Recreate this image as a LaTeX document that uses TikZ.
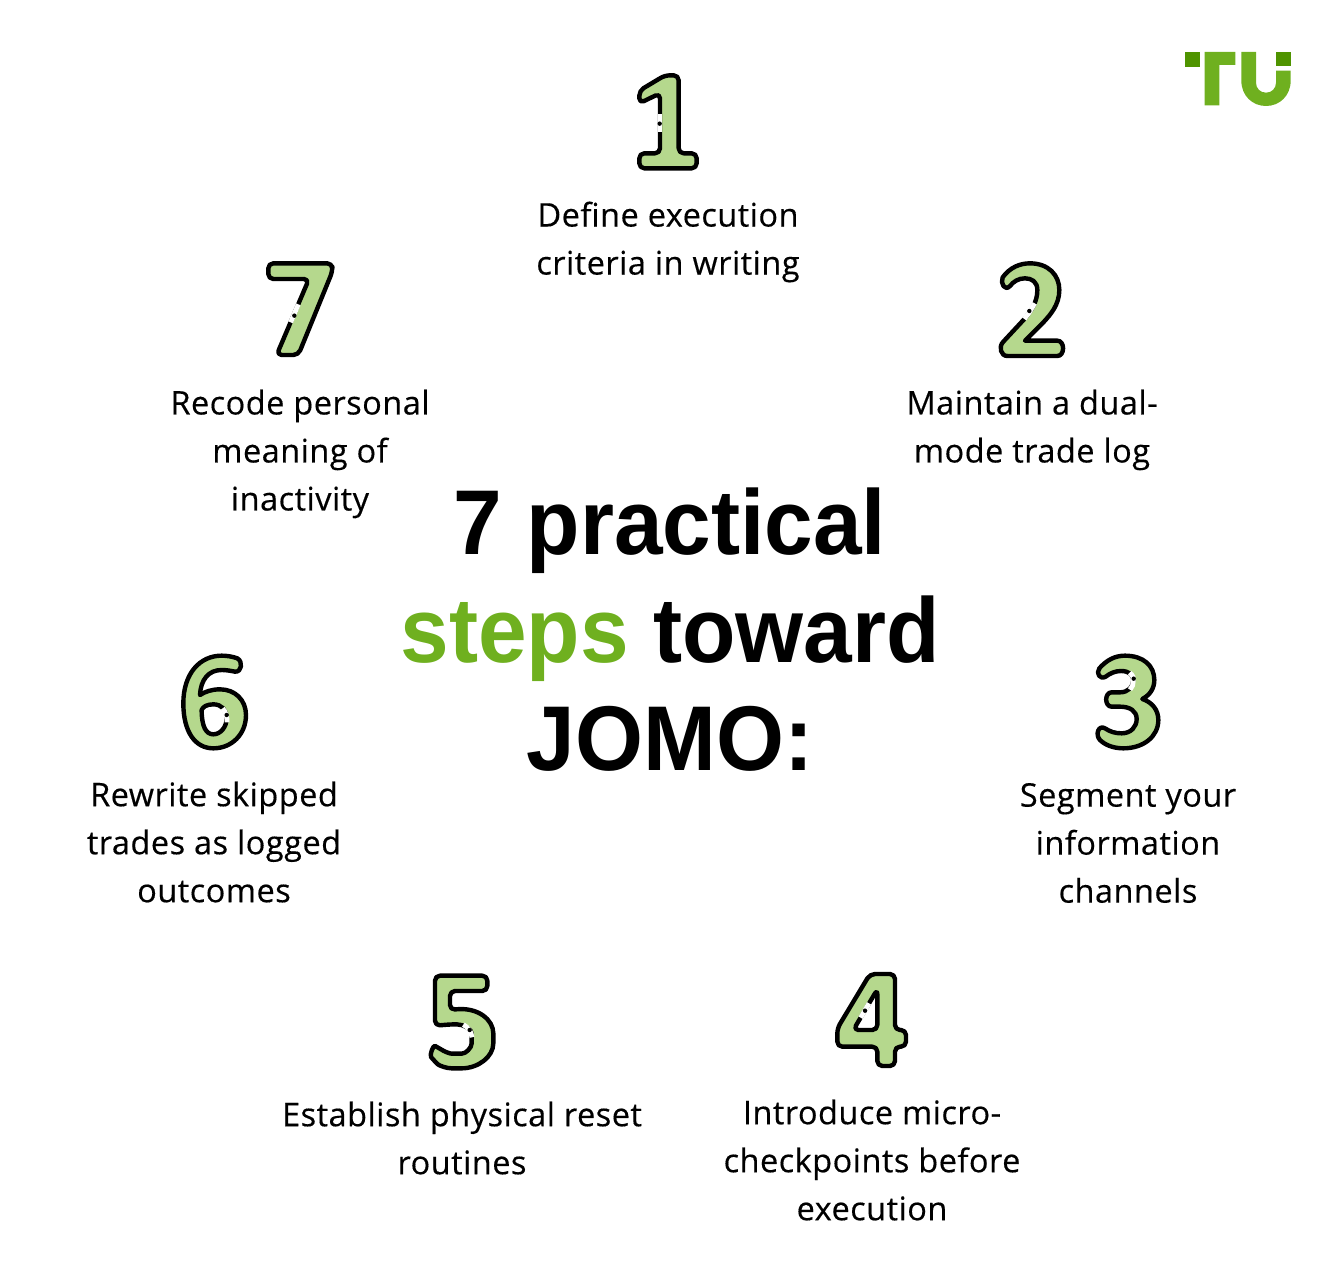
\documentclass[tikz,border=0pt]{standalone}
\usepackage{fontspec}
\setmainfont[FakeBold=0.35,LetterSpace=1.5]{Open Sans}
\newfontfamily\titlefont[FakeStretch=0.95]{Liberation Sans}
\usepackage{tikz}

\definecolor{numgreen}{HTML}{B5D88D}
\definecolor{tugreen}{HTML}{6FB01F}
\definecolor{tudark}{HTML}{4F9400}

\tikzset{
	numshape/.style={x=.3333pt,y=-.3333pt,fill=numgreen,draw=black,line width=4.4pt,line join=round,even odd rule},
	numgap/.style={x=.3333pt,y=-.3333pt,draw=white,line width=4.8pt},
	numdot/.style={x=.3333pt,y=-.3333pt,fill=black},
	steplabel/.style={align=center,font=\fontsize{32.5}{48}\selectfont},
	numone/.pic={
		\filldraw[numshape,rounded corners=5pt](118,122)--(195,76)--(236,76)--(236,310)--(290,310)--(290,355)--(118,355)--(118,310)--(180,310)--(180,130)--(118,160)--cycle;
		\draw[numgap](180,192)--(180,245);
		\fill[numdot](179,221)circle(2.2pt);
	},
	numtwo/.pic={
		\filldraw[numshape](98,112) .. controls (120,82) and (150,70) .. (180,70)
			.. controls (235,70) and (268,105) .. (268,150)
			.. controls (268,195) and (240,225) .. (222,245)
			-- (165,302) -- (262,302)
			.. controls (285,302) and (285,348) .. (262,348)
			-- (112,348)
			.. controls (92,348) and (85,320) .. (100,305)
			-- (165,235)
			.. controls (185,210) and (202,185) .. (202,150)
			.. controls (202,125) and (185,115) .. (165,115)
			.. controls (145,115) and (130,125) .. (120,138)
			.. controls (105,155) and (90,130) .. (98,112) -- cycle;
		\draw[numgap](194,190)--(179,216)--(163,237);
		\fill[numdot](178,213)circle(2.2pt);
	},
	numthree/.pic={
		\filldraw[numshape](103,100) .. controls (125,75) and (150,62) .. (180,62)
			.. controls (235,62) and (268,92) .. (268,135)
			.. controls (268,160) and (255,180) .. (232,192)
			.. controls (262,202) and (280,225) .. (280,255)
			.. controls (280,305) and (235,340) .. (175,340)
			.. controls (145,340) and (120,330) .. (105,315)
			.. controls (90,300) and (100,268) .. (120,280)
			.. controls (135,290) and (150,295) .. (170,295)
			.. controls (198,295) and (215,275) .. (215,252)
			.. controls (215,228) and (195,215) .. (165,215)
			-- (140,215)
			.. controls (118,215) and (118,172) .. (140,172)
			-- (165,172)
			.. controls (190,172) and (205,155) .. (205,135)
			.. controls (205,118) and (190,108) .. (168,108)
			.. controls (150,108) and (135,115) .. (122,125)
			.. controls (105,135) and (92,115) .. (103,100) -- cycle;
		\draw[numgap](194,113) .. controls (203,120) and (207,128) .. (205,138) .. controls (205,148) and (202,156) .. (195,164);
		\fill[numdot](206,131)circle(2.2pt);
	},
	numfour/.pic={
		\filldraw[numshape,rounded corners=5pt](210,72)--(285,72)--(285,240)--(318,240)--(318,290)--(285,290)--(285,348)--(232,348)--(232,290)--(112,290)--(112,235)--cycle
			(232,118)--(232,240)--(160,240)--cycle;
		\draw[numgap](207,160)--(182,203);
		\fill[numdot](195,182)circle(2.2pt);
	},
	numfive/.pic={
		\filldraw[numshape,rounded corners=5pt](105,62)--(262,62)--(262,108)--(150,108)--(150,165)
			.. controls (235,155) and (280,195) .. (280,250)
			.. controls (280,305) and (235,340) .. (170,340)
			.. controls (140,340) and (118,332) .. (103,318)
			.. controls (88,300) and (100,270) .. (118,280)
			.. controls (135,290) and (150,296) .. (170,296)
			.. controls (198,296) and (215,278) .. (215,250)
			.. controls (215,222) and (190,208) .. (155,208)
			-- (105,212) -- cycle;
		\draw[numgap](190,209) .. controls (205,217) and (214,230) .. (216,247);
		\fill[numdot](209,225)circle(2.2pt);
	},
	numsix/.pic={
		\filldraw[numshape](262,70) .. controls (280,80) and (275,112) .. (255,110)
			.. controls (240,107) and (228,105) .. (215,105)
			.. controls (175,105) and (152,135) .. (150,180)
			.. controls (165,170) and (185,163) .. (210,163)
			.. controls (255,163) and (288,195) .. (288,240)
			.. controls (288,298) and (245,340) .. (190,340)
			.. controls (135,340) and (100,290) .. (100,205)
			.. controls (100,115) and (150,62) .. (215,62)
			.. controls (232,62) and (248,65) .. (262,70) -- cycle
			(190,208) .. controls (170,208) and (158,216) .. (155,225)
			.. controls (155,275) and (168,298) .. (190,298)
			.. controls (212,298) and (230,275) .. (230,250)
			.. controls (230,225) and (215,208) .. (190,208) -- cycle;
		\draw[numgap](218,220) .. controls (227,230) and (232,245) .. (231,262);
		\fill[numdot](230,240)circle(2.2pt);
	},
	numseven/.pic={
		\filldraw[numshape,rounded corners=5pt](100,55)--(292,55)--(292,80)--(190,330)--(125,330)--(222,102)--(100,102)--cycle;
		\draw[numgap](190,178)--(167,232);
		\fill[numdot](178,212)circle(2.2pt);
	},
	logomark/.pic={
		\fill[tugreen,x=.3333pt,y=-.3333pt](134,66)--(226,66)--(226,105)--(178,105)--(178,226)--(134,226)--cycle;
		\fill[tugreen,x=.3333pt,y=-.3333pt](244,66)--(244,152) .. controls (244,198) and (278,228) .. (318,228) .. controls (358,228) and (392,198) .. (392,152)--(392,122)--(348,122)--(348,158) .. controls (348,176) and (335,188) .. (318,188) .. controls (301,188) and (288,176) .. (288,158)--(288,66)--cycle;
		\fill[tudark,x=.3333pt,y=-.3333pt](76,66)rectangle(120,110);
		\fill[tudark,x=.3333pt,y=-.3333pt](348,66)rectangle(392,108);
	}
}

\begin{document}
\begin{tikzpicture}[x=1pt,y=-1pt]
	\useasboundingbox (0,0) rectangle (1340,1260);
	\pic at (600,50) {numone};
	\pic at (970,240) {numtwo};
	\pic at (1065,635) {numthree};
	\pic at (800,950) {numfour};
	\pic at (400,955) {numfive};
	\pic at (150,635) {numsix};
	\pic at (235,245) {numseven};
	\pic at (1160,30) {logomark};
	\node[steplabel](define) at (668,242){Define execution\\criteria in writing};
	\node[steplabel](maintain) at (1032,430){Maintain a dual-\\mode trade log};
	\node[steplabel](segment) at (1128,843){Segment your\\information\\channels};
	\node[steplabel](introduce) at (872,1160){Introduce micro-\\checkpoints before\\execution};
	\node[steplabel](establish) at (462,1138){Establish physical reset\\routines};
	\node[steplabel](rewrite) at (214,842){Rewrite skipped\\trades as logged\\outcomes};
	\node[steplabel](recode) at (300,454){Recode personal\\meaning of\\inactivity};
	\node[align=center,font=\titlefont\bfseries\fontsize{92}{108}\selectfont](title) at (670,630){7 practical\\\textcolor{tugreen}{steps} toward\\JOMO:};
\end{tikzpicture}
\end{document}
